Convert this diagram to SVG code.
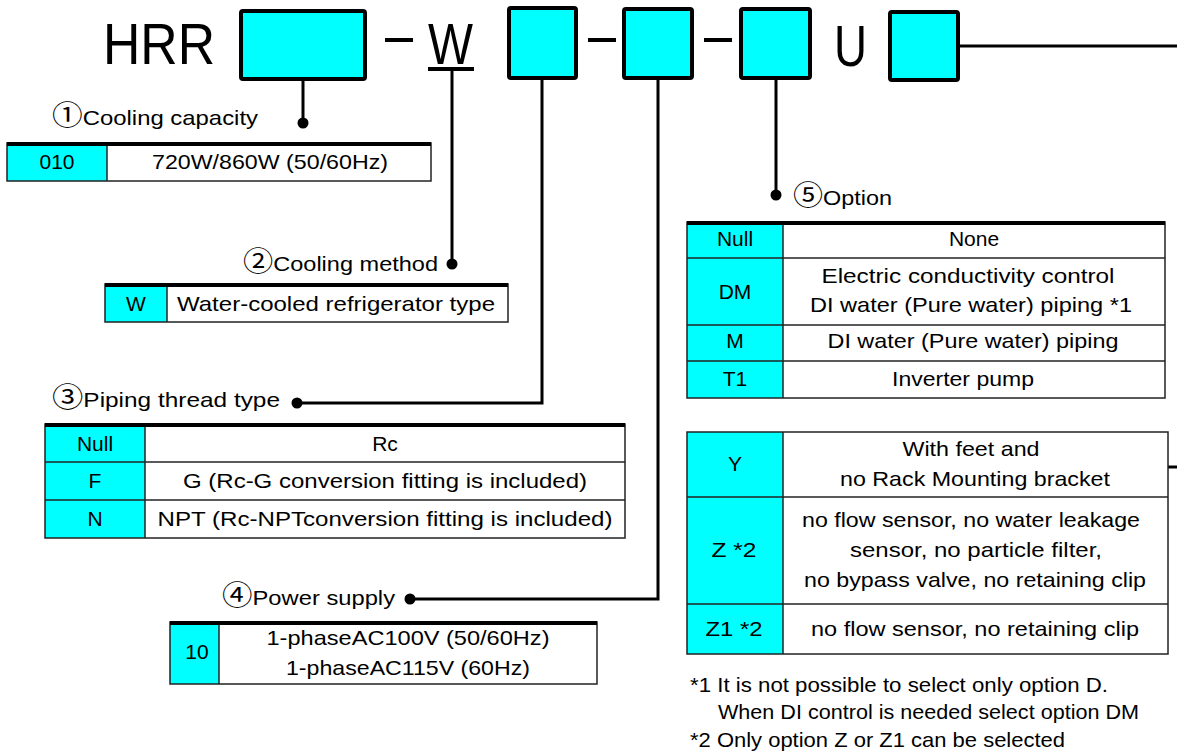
<svg xmlns="http://www.w3.org/2000/svg" width="1177" height="754" viewBox="0 0 1177 754">
<style>
text{font-family:"Liberation Sans","Noto Sans CJK JP",sans-serif;fill:#000}
.t{font-size:21px}
.m{text-anchor:middle}
.big{font-size:57px}
.cd{font-family:"Noto Sans CJK JP","DejaVu Sans",sans-serif;font-size:27px}
.box{fill:#00FFFF;stroke:#000;stroke-width:4}
.cy{fill:#00FFFF}
.wh{fill:#fff}
.grid{fill:none;stroke:#222;stroke-width:1.5}
.thick{stroke:#000;stroke-width:4}
.con{fill:none;stroke:#000;stroke-width:3}
.dash{stroke:#000;stroke-width:4}
</style>
<rect width="1177" height="754" fill="#fff"/>

<g id="title">
<text class="big" x="103" y="64" textLength="112" lengthAdjust="spacingAndGlyphs">HRR</text>
<rect id="box1" class="box" x="241" y="11" width="124" height="68" rx="2"/>
<line class="dash" x1="385" y1="40" x2="413" y2="40"/>
<text class="big" x="428" y="64" textLength="45" lengthAdjust="spacingAndGlyphs">W</text>
<line class="dash" x1="428" y1="69" x2="474" y2="69"/>
<rect id="box2" class="box" x="509" y="8" width="67" height="70" rx="2"/>
<line class="dash" x1="588" y1="40" x2="616" y2="40"/>
<rect id="box3" class="box" x="624" y="9" width="68" height="69" rx="2"/>
<line class="dash" x1="704" y1="40" x2="732" y2="40"/>
<rect id="box4" class="box" x="741" y="9" width="69" height="69" rx="2"/>
<text class="big" x="834" y="66" textLength="33" lengthAdjust="spacingAndGlyphs">U</text>
<rect id="box5" class="box" x="890" y="12" width="68" height="68" rx="2"/>
</g>

<g id="connectors">
<polyline class="con" points="303,81 303,123"/>
<circle cx="303" cy="123" r="5.5"/>
<polyline class="con" points="452,71 452,264"/>
<circle cx="452" cy="264" r="5.5"/>
<polyline class="con" points="542,80 542,403 297,403"/>
<circle cx="297" cy="403" r="5.5"/>
<polyline class="con" points="658,80 658,599 410,599"/>
<circle cx="410" cy="599" r="5.5"/>
<polyline class="con" points="776,80 776,195"/>
<circle cx="776" cy="195" r="5.5"/>
<line class="con" x1="960" y1="46" x2="1177" y2="46"/>
<line class="con" x1="1168" y1="467" x2="1177" y2="467"/>
</g>

<g id="n1-cooling-capacity">
<text class="t" x="52" y="125" textLength="206" lengthAdjust="spacingAndGlyphs"><tspan class="cd">①</tspan>Cooling capacity</text>
<rect class="cy" x="7" y="143" width="100" height="38"/>
<rect class="wh" x="107" y="143" width="324" height="38"/>
<rect class="grid" x="7" y="143" width="424" height="38"/>
<line class="grid" x1="107" y1="143" x2="107" y2="181"/>
<line class="thick" x1="7" y1="144" x2="431" y2="144"/>
<text class="t m" x="57" y="169">010</text>
<text class="t m" x="270" y="169" textLength="236" lengthAdjust="spacingAndGlyphs">720W/860W (50/60Hz)</text>
</g>

<g id="n2-cooling-method">
<text class="t" x="243" y="271" textLength="195" lengthAdjust="spacingAndGlyphs"><tspan class="cd">②</tspan>Cooling method</text>
<rect class="cy" x="105" y="284" width="62" height="38"/>
<rect class="wh" x="167" y="284" width="341" height="38"/>
<rect class="grid" x="105" y="284" width="403" height="38"/>
<line class="grid" x1="167" y1="284" x2="167" y2="322"/>
<line class="thick" x1="105" y1="285" x2="508" y2="285"/>
<text class="t m" x="136" y="311">W</text>
<text class="t" x="177" y="311" textLength="318" lengthAdjust="spacingAndGlyphs">Water-cooled refrigerator type</text>
</g>

<g id="n3-piping-thread">
<text class="t" x="52" y="407" textLength="228" lengthAdjust="spacingAndGlyphs"><tspan class="cd">③</tspan>Piping thread type</text>
<rect class="cy" x="45" y="424" width="100" height="114"/>
<rect class="wh" x="145" y="424" width="480" height="114"/>
<rect class="grid" x="45" y="424" width="580" height="114"/>
<line class="grid" x1="145" y1="424" x2="145" y2="538"/>
<line class="grid" x1="45" y1="462" x2="625" y2="462"/>
<line class="grid" x1="45" y1="500" x2="625" y2="500"/>
<line class="thick" x1="45" y1="425" x2="625" y2="425"/>
<text class="t m" x="95" y="451">Null</text>
<text class="t m" x="385" y="451">Rc</text>
<text class="t m" x="95" y="488">F</text>
<text class="t m" x="385" y="488" textLength="404" lengthAdjust="spacingAndGlyphs">G (Rc-G conversion fitting is included)</text>
<text class="t m" x="95" y="526">N</text>
<text class="t m" x="385" y="526" textLength="455" lengthAdjust="spacingAndGlyphs">NPT (Rc-NPTconversion fitting is included)</text>
</g>

<g id="n4-power-supply">
<text class="t" x="222" y="605" textLength="173" lengthAdjust="spacingAndGlyphs"><tspan class="cd">④</tspan>Power supply</text>
<rect class="cy" x="170" y="622" width="49" height="62"/>
<rect class="wh" x="219" y="622" width="378" height="62"/>
<rect class="grid" x="170" y="622" width="427" height="62"/>
<line class="grid" x1="219" y1="622" x2="219" y2="684"/>
<line class="thick" x1="170" y1="623" x2="597" y2="623"/>
<text class="t m" x="197" y="659">10</text>
<text class="t m" x="408" y="645" textLength="283" lengthAdjust="spacingAndGlyphs">1-phaseAC100V (50/60Hz)</text>
<text class="t m" x="408" y="675" textLength="244" lengthAdjust="spacingAndGlyphs">1-phaseAC115V (60Hz)</text>
</g>

<g id="n5-option">
<text class="t" x="793" y="205" textLength="99" lengthAdjust="spacingAndGlyphs"><tspan class="cd">⑤</tspan>Option</text>
<rect class="cy" x="687" y="222" width="96" height="176"/>
<rect class="wh" x="783" y="222" width="382" height="176"/>
<rect class="grid" x="687" y="222" width="478" height="176"/>
<line class="grid" x1="783" y1="222" x2="783" y2="398"/>
<line class="grid" x1="687" y1="258" x2="1165" y2="258"/>
<line class="grid" x1="687" y1="325" x2="1165" y2="325"/>
<line class="grid" x1="687" y1="361" x2="1165" y2="361"/>
<line class="thick" x1="687" y1="223" x2="1165" y2="223"/>
<text class="t m" x="735" y="246">Null</text>
<text class="t m" x="974" y="246">None</text>
<text class="t m" x="735" y="299">DM</text>
<text class="t m" x="968" y="283" textLength="293" lengthAdjust="spacingAndGlyphs">Electric conductivity control</text>
<text class="t m" x="971" y="312" textLength="322" lengthAdjust="spacingAndGlyphs">DI water (Pure water) piping *1</text>
<text class="t m" x="735" y="348">M</text>
<text class="t m" x="973" y="348" textLength="291" lengthAdjust="spacingAndGlyphs">DI water (Pure water) piping</text>
<text class="t m" x="735" y="386">T1</text>
<text class="t m" x="963" y="386" textLength="142" lengthAdjust="spacingAndGlyphs">Inverter pump</text>
</g>

<g id="n6-option2">
<rect class="cy" x="687" y="432" width="96" height="222"/>
<rect class="wh" x="783" y="432" width="385" height="222"/>
<rect class="grid" x="687" y="432" width="481" height="222"/>
<line class="grid" x1="783" y1="432" x2="783" y2="654"/>
<line class="grid" x1="687" y1="497" x2="1168" y2="497"/>
<line class="grid" x1="687" y1="604" x2="1168" y2="604"/>
<text class="t m" x="735" y="471">Y</text>
<text class="t m" x="971" y="456" textLength="137" lengthAdjust="spacingAndGlyphs">With feet and</text>
<text class="t m" x="975" y="486" textLength="270" lengthAdjust="spacingAndGlyphs">no Rack Mounting bracket</text>
<text class="t m" x="734" y="557" textLength="45" lengthAdjust="spacingAndGlyphs">Z *2</text>
<text class="t m" x="971" y="527" textLength="338" lengthAdjust="spacingAndGlyphs">no flow sensor, no water leakage</text>
<text class="t m" x="976" y="557" textLength="252" lengthAdjust="spacingAndGlyphs">sensor, no particle filter,</text>
<text class="t m" x="975" y="587" textLength="342" lengthAdjust="spacingAndGlyphs">no bypass valve, no retaining clip</text>
<text class="t m" x="734" y="636" textLength="57" lengthAdjust="spacingAndGlyphs">Z1 *2</text>
<text class="t m" x="975" y="636" textLength="328" lengthAdjust="spacingAndGlyphs">no flow sensor, no retaining clip</text>
</g>

<g id="notes">
<text class="t" x="690" y="692" textLength="418" lengthAdjust="spacingAndGlyphs">*1 It is not possible to select only option D.</text>
<text class="t" x="718" y="719" textLength="421" lengthAdjust="spacingAndGlyphs">When DI control is needed select option DM</text>
<text class="t" x="690" y="747" textLength="375" lengthAdjust="spacingAndGlyphs">*2 Only option Z or Z1 can be selected</text>
</g>
</svg>
